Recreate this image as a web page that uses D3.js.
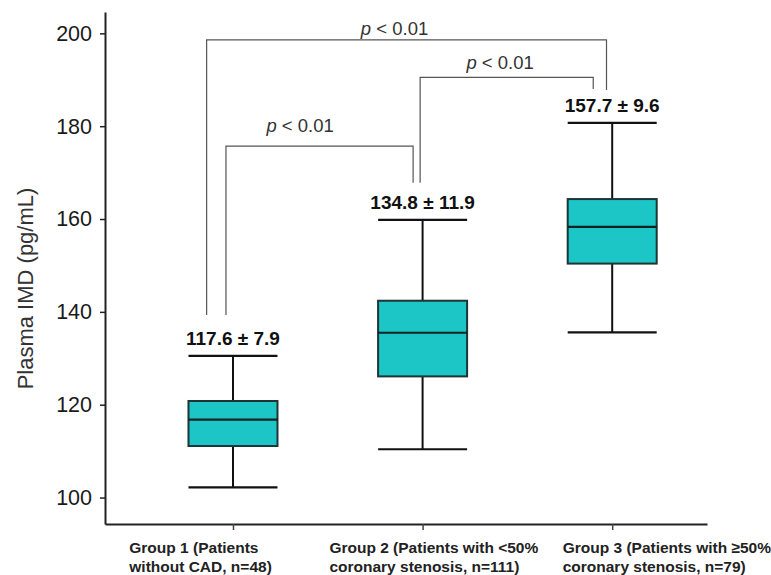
<!DOCTYPE html>
<html>
<head>
<meta charset="utf-8">
<script src="https://cdn.jsdelivr.net/npm/d3@7"></script>
<style>
	body { margin: 0; background: #fff; }
	svg { display: block; font-family: Arial, "Liberation Sans", sans-serif; }
</style>
</head>
<body>
<svg id="chart" width="771" height="575"></svg>
<script>
var groups = ['Group 1', 'Group 2', 'Group 3'],
	groupLines = [
		['Group 1 (Patients', 'without CAD, n=48)'],
		['Group 2 (Patients with <50%', 'coronary stenosis, n=111)'],
		['Group 3 (Patients with \u226550%', 'coronary stenosis, n=79)']
	],
	whiskerLow = [102.2, 110.4, 135.6],
	q1 = [111.1, 126.1, 150.4],
	median = [116.8, 135.5, 158.3],
	q3 = [120.8, 142.4, 164.3],
	whiskerHigh = [130.5, 159.8, 180.7],
	meanSd = ['117.6 \u00b1 7.9', '134.8 \u00b1 11.9', '157.7 \u00b1 9.6'],
	yTicks = [100, 120, 140, 160, 180, 200];

// significance brackets: ends given as group index, heights in pg/mL
var brackets = [
	{ from: -0.139, to: 1.97, top: 198.6, fromEnd: 139.3, toEnd: 187.8, labelAt: 0.852, labelY: 199.7 },
	{ from: -0.037, to: 0.95, top: 175.7, fromEnd: 139.3, toEnd: 167.8, labelAt: 0.354, labelY: 178.8 },
	{ from: 0.987, to: 1.90, top: 190.5, fromEnd: 167.8, toEnd: 188.0, labelAt: 1.409, labelY: 192.3 }
];

var svg = d3.select('#chart'),
	boxWidth = 89,
	labelStart = [-103.7, -93.2, -49.5];

var x = d3.scaleLinear().domain([-0.675, 2.5]).range([105, 707]);
var y = d3.scaleLinear().domain([94.3, 204.6]).range([524, 12]);

// axes
var yAxis = svg.append('g')
	.attr('transform', 'translate(105,0)')
	.call(d3.axisLeft(y).tickValues(yTicks).tickSize(5).tickSizeOuter(0).tickPadding(8))
	.attr('font-size', 21.5)
	.attr('font-family', 'Arial, "Liberation Sans", sans-serif');

yAxis.select('.domain').attr('stroke', '#222').attr('stroke-width', 2);
yAxis.selectAll('.tick line').attr('stroke', '#222').attr('stroke-width', 1.5);
yAxis.selectAll('.tick text').attr('fill', '#1a1a1a');

var xAxis = svg.append('g')
	.attr('transform', 'translate(0,524)')
	.call(d3.axisBottom(x).tickValues([0, 1, 2]).tickFormat('').tickSize(6).tickSizeOuter(0));

xAxis.select('.domain').attr('stroke', '#222').attr('stroke-width', 2);
xAxis.selectAll('.tick line').attr('stroke', '#444').attr('stroke-width', 1.5);

svg.append('text')
	.attr('transform', 'translate(33,288.5) rotate(-90)')
	.attr('text-anchor', 'middle')
	.attr('fill', '#333')
	.style('font-size', '22px')
	.text('Plasma IMD (pg/mL)');

// category labels
groupLines.forEach(function(lines, i){
	var t = svg.append('text')
		.attr('x', x(i) + labelStart[i])
		.attr('y', 553.3)
		.attr('fill', '#222')
		.style('font-size', '15.5px')
		.style('font-weight', 'bold');
	lines.forEach(function(line, j){
		t.append('tspan')
			.attr('x', x(i) + labelStart[i])
			.attr('dy', j ? 18.7 : 0)
			.text(line);
	});
});

// brackets
var br = svg.append('g').attr('fill', 'none').attr('stroke', '#555').attr('stroke-width', 1.2);
br.selectAll('path')
	.data(brackets)
	.enter()
	.append('path')
	.attr('d', function(b){
		return 'M' + x(b.from) + ',' + y(b.fromEnd) +
			'V' + y(b.top) +
			'H' + x(b.to) +
			'V' + y(b.toEnd);
	});

var pl = svg.selectAll('.p-label')
	.data(brackets)
	.enter()
	.append('text')
	.attr('class', 'p-label')
	.attr('x', function(b){ return x(b.labelAt); })
	.attr('y', function(b){ return y(b.labelY); })
	.attr('text-anchor', 'middle')
	.attr('fill', '#333')
	.style('font-size', '18.5px');
pl.append('tspan').style('font-style', 'italic').text('p');
pl.append('tspan').text(' < 0.01');

// boxes
var box = svg.selectAll('.box')
	.data(groups)
	.enter()
	.append('g')
	.attr('class', 'box');

box.append('line')
	.attr('x1', function(d, i){ return x(i); })
	.attr('x2', function(d, i){ return x(i); })
	.attr('y1', function(d, i){ return y(whiskerLow[i]); })
	.attr('y2', function(d, i){ return y(whiskerHigh[i]); })
	.attr('stroke', '#111')
	.attr('stroke-width', 2);

[whiskerLow, whiskerHigh].forEach(function(arr){
	box.append('line')
		.attr('x1', function(d, i){ return x(i) - boxWidth / 2; })
		.attr('x2', function(d, i){ return x(i) + boxWidth / 2; })
		.attr('y1', function(d, i){ return y(arr[i]); })
		.attr('y2', function(d, i){ return y(arr[i]); })
		.attr('stroke', '#111')
		.attr('stroke-width', 2.2);
});

box.append('rect')
	.attr('x', function(d, i){ return x(i) - boxWidth / 2; })
	.attr('y', function(d, i){ return y(q3[i]); })
	.attr('width', boxWidth)
	.attr('height', function(d, i){ return y(q1[i]) - y(q3[i]); })
	.attr('fill', '#1cc6c6')
	.attr('stroke', '#1d3535')
	.attr('stroke-width', 2);

box.append('line')
	.attr('x1', function(d, i){ return x(i) - boxWidth / 2; })
	.attr('x2', function(d, i){ return x(i) + boxWidth / 2; })
	.attr('y1', function(d, i){ return y(median[i]); })
	.attr('y2', function(d, i){ return y(median[i]); })
	.attr('stroke', '#112222')
	.attr('stroke-width', 2.2);

box.append('text')
	.attr('x', function(d, i){ return x(i); })
	.attr('y', function(d, i){ return y(whiskerHigh[i]) - 10.5; })
	.attr('text-anchor', 'middle')
	.attr('fill', '#111')
	.style('font-size', '19px')
	.style('font-weight', 'bold')
	.text(function(d, i){ return meanSd[i]; });
</script>
</body>
</html>
